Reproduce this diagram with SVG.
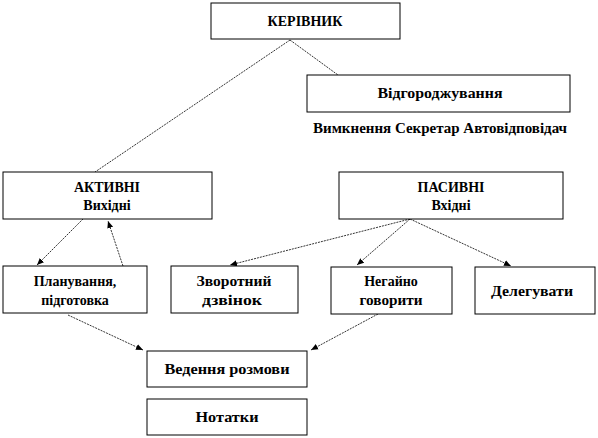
<svg xmlns="http://www.w3.org/2000/svg" width="598" height="438" viewBox="0 0 598 438">
<style>
.box{fill:#fff;stroke:#000;stroke-width:1}
.t{font-family:"Liberation Serif","Times New Roman",serif;font-weight:bold;font-size:14px;fill:#000;text-anchor:middle}
.c{stroke:#000;stroke-width:0.8;stroke-dasharray:2 1;fill:none}
.a{marker-end:url(#ah)}
</style>
<defs>
<marker id="ah" markerWidth="8" markerHeight="8" refX="7" refY="4" orient="auto" markerUnits="userSpaceOnUse">
<path d="M0,1 L7,4 L0,7 Z" fill="#000"/>
</marker>
</defs>
<rect width="598" height="438" fill="#fff"/>
<g id="connectors">
<path class="c" d="M290,40 L95,172"/>
<path class="c" d="M290,40 L338,75"/>
<path class="c a" d="M83,219 L37,265"/>
<path class="c a" d="M123,266 L108,221"/>
<path class="c a" d="M410,219 L230,265"/>
<path class="c a" d="M410,219 L357,265"/>
<path class="c a" d="M410,219 L511,266"/>
<path class="c a" d="M68,315 L143,350"/>
<path class="c a" d="M378,314 L311,350"/>
</g>
<g id="kerivnyk"><rect class="box" x="211" y="3" width="189" height="36"/><text class="t" x="305" y="26">КЕРІВНИК</text></g>
<g id="vidgorodzhuvannya"><rect class="box" x="307" y="75" width="263" height="37"/><text class="t" x="440" y="98" textLength="125" lengthAdjust="spacingAndGlyphs">Відгороджування</text></g>
<g id="vymknennya"><text class="t" x="440" y="133" textLength="254" lengthAdjust="spacingAndGlyphs">Вимкнення Секретар Автовідповідач</text></g>
<g id="aktyvni"><rect class="box" x="3" y="172" width="209" height="47"/><text class="t" x="107" y="192">АКТИВНІ</text><text class="t" x="107" y="210">Вихідні</text></g>
<g id="pasyvni"><rect class="box" x="339" y="172" width="224" height="47"/><text class="t" x="451" y="192">ПАСИВНІ</text><text class="t" x="451" y="210">Вхідні</text></g>
<g id="planuvannya"><rect class="box" x="3" y="266" width="144" height="47"/><text class="t" x="75" y="286">Планування,</text><text class="t" x="75" y="305">підготовка</text></g>
<g id="zvorotnyi"><rect class="box" x="171" y="266" width="127" height="47"/><text class="t" x="234" y="286" textLength="75" lengthAdjust="spacingAndGlyphs">Зворотний</text><text class="t" x="232" y="305" textLength="60" lengthAdjust="spacingAndGlyphs">дзвінок</text></g>
<g id="negaino"><rect class="box" x="331" y="267" width="121" height="47"/><text class="t" x="391" y="286">Негайно</text><text class="t" x="391" y="305" textLength="63" lengthAdjust="spacingAndGlyphs">говорити</text></g>
<g id="deleguvaty"><rect class="box" x="475" y="267" width="120" height="47"/><text class="t" x="532" y="296" textLength="82" lengthAdjust="spacingAndGlyphs">Делегувати</text></g>
<g id="vedennya"><rect class="box" x="147" y="351" width="160" height="36"/><text class="t" x="227" y="374" textLength="125" lengthAdjust="spacingAndGlyphs">Ведення розмови</text></g>
<g id="notatky"><rect class="box" x="147" y="399" width="160" height="36"/><text class="t" x="227" y="422" textLength="63" lengthAdjust="spacingAndGlyphs">Нотатки</text></g>
</svg>
